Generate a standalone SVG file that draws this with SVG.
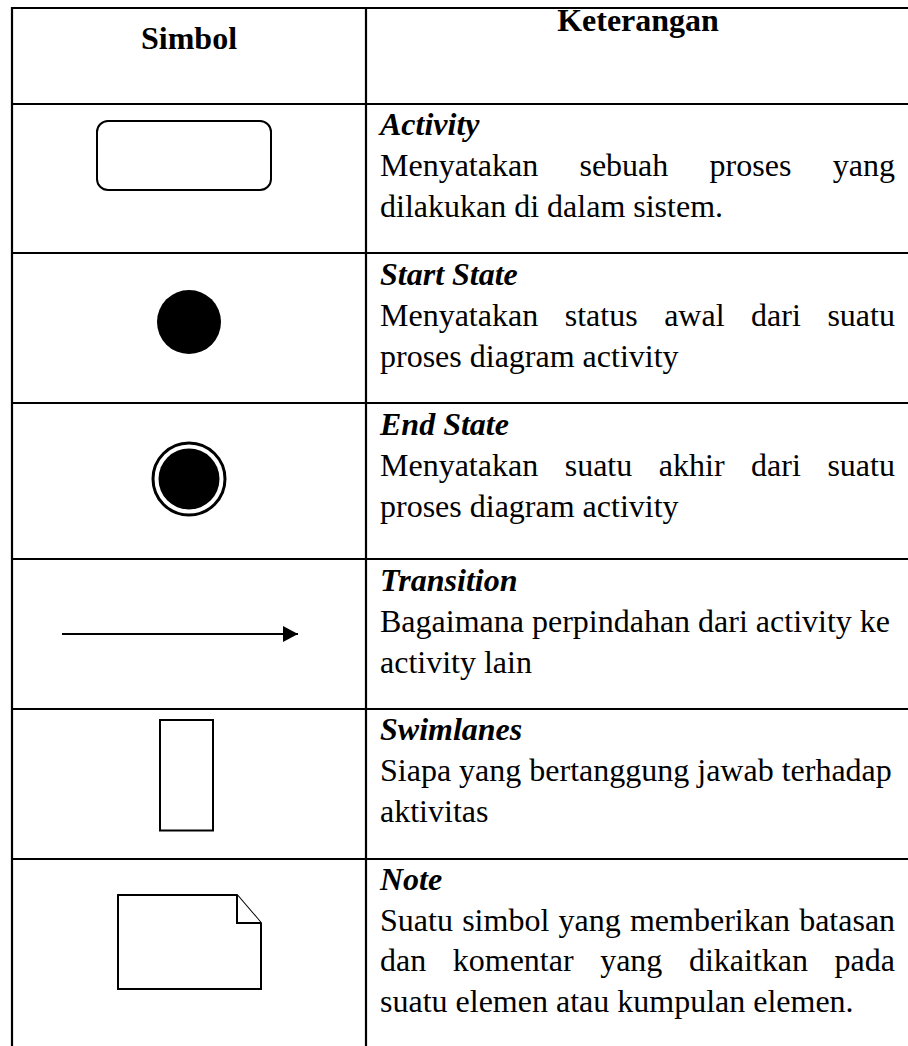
<svg xmlns="http://www.w3.org/2000/svg" width="908" height="1046" viewBox="0 0 908 1046">
<style>
.grid{stroke:#000;stroke-width:2.2;fill:none}
.sym{stroke:#000;stroke-width:2;fill:#fff}
.t{font-family:"Liberation Serif","Times New Roman",serif;font-size:32px;fill:#000}
.h{font-weight:bold;text-anchor:middle}
.ti{font-weight:bold;font-style:italic}
.j3{word-spacing:18.55px}
</style>
<defs>
<marker id="arr" markerWidth="16" markerHeight="16" refX="15" refY="8" orient="auto" markerUnits="userSpaceOnUse">
<path d="M0,0 L15,8 L0,16 Z" fill="#000"/>
</marker>
</defs>
<rect width="908" height="1046" fill="#fff"/>
<g id="table-grid">
<path class="grid" d="M12,1046 V8 H910 M366,8 V1046 M12,104 H910 M12,253 H910 M12,403 H910 M12,559 H910 M12,709 H910 M12,859 H910"/>
</g>
<g id="header">
<text class="t h" x="189" y="49">Simbol</text>
<text class="t h" x="638" y="31">Keterangan</text>
</g>
<g id="row-activity">
<rect class="sym" x="97" y="121" width="174" height="69" rx="11"/>
<text class="t ti" x="380" y="135">Activity</text>
<text class="t" x="380" y="176" style="word-spacing:33.3px">Menyatakan sebuah proses yang</text>
<text class="t" x="380" y="217">dilakukan di dalam sistem.</text>
</g>
<g id="row-start">
<circle cx="189" cy="322" r="32" fill="#000"/>
<text class="t ti" x="380" y="285">Start State</text>
<text class="t j3" x="380" y="326">Menyatakan status awal dari suatu</text>
<text class="t" x="380" y="367">proses diagram activity</text>
</g>
<g id="row-end">
<circle cx="189" cy="479" r="36" fill="#fff" stroke="#000" stroke-width="3"/>
<circle cx="189" cy="479" r="30.5" fill="#000"/>
<text class="t ti" x="380" y="435">End State</text>
<text class="t j3" x="380" y="476">Menyatakan suatu akhir dari suatu</text>
<text class="t" x="380" y="517">proses diagram activity</text>
</g>
<g id="row-transition">
<text class="t ti" x="380" y="591">Transition</text>
<text class="t" x="380" y="632">Bagaimana perpindahan dari activity ke</text>
<text class="t" x="380" y="673">activity lain</text>
</g>
<g id="row-swimlanes">
<rect class="sym" x="160" y="720" width="53" height="110.5"/>
<text class="t ti" x="380" y="740">Swimlanes</text>
<text class="t" x="380" y="781">Siapa yang bertanggung jawab terhadap</text>
<text class="t" x="380" y="822">aktivitas</text>
</g>
<g id="row-note">
<path class="sym" d="M118,895 H237 L261,923 V989 H118 Z"/>
<path class="sym" fill="none" d="M237,895 V923 H261"/>
<text class="t ti" x="380" y="890">Note</text>
<text class="t" x="380" y="930.5" style="word-spacing:1.25px">Suatu simbol yang memberikan batasan</text>
<text class="t" x="380" y="971" style="word-spacing:18.55px">dan komentar yang dikaitkan pada</text>
<text class="t" x="380" y="1011.5">suatu elemen atau kumpulan elemen.</text>
</g>
<g id="connectors">
<line x1="62" y1="634" x2="298" y2="634" stroke="#000" stroke-width="2" marker-end="url(#arr)"/>
</g>
</svg>
